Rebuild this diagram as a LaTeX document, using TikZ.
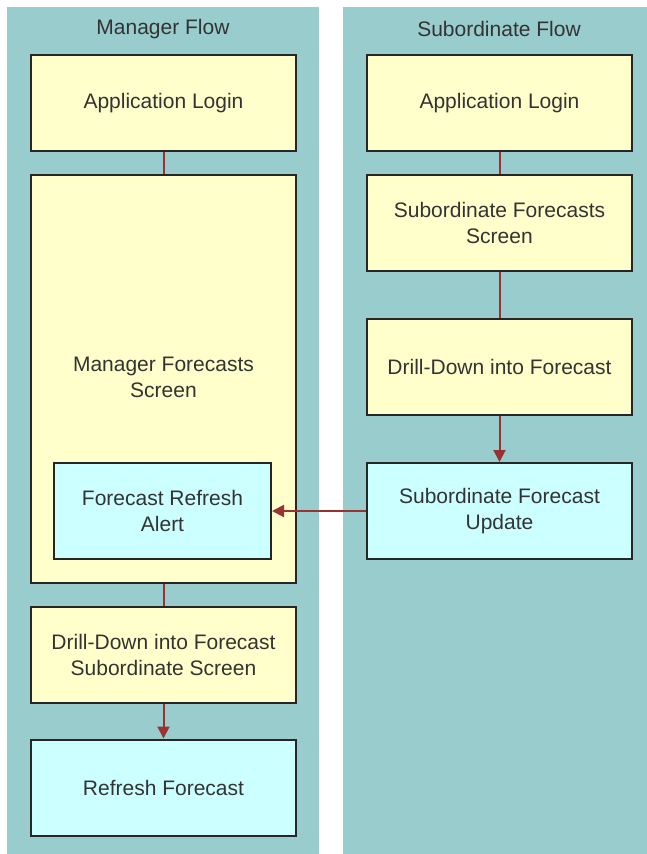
\documentclass[tikz,border=0pt]{standalone}
\usepackage{fontspec}
\setmainfont{Liberation Sans}
\usetikzlibrary{arrows.meta}
\definecolor{lanefill}{HTML}{99CCCC}
\definecolor{boxyellow}{HTML}{FFFFCC}
\definecolor{boxcyan}{HTML}{CCFFFF}
\definecolor{connred}{HTML}{993333}
\definecolor{txtgray}{HTML}{333333}
\tikzset{
  lane/.style={fill=lanefill, draw=none},
  lanetitle/.style={text=txtgray, font=\fontsize{21}{25}\selectfont, inner sep=0pt},
  box/.style={draw=black!85, line width=2pt, minimum width=265pt, minimum height=96pt,
    align=center, text=txtgray, font=\fontsize{21}{26}\selectfont, inner sep=0pt},
  ybox/.style={box, fill=boxyellow},
  cbox/.style={box, fill=boxcyan},
  conn/.style={draw=connred, line width=2pt},
  arr/.style={conn, -{Triangle[length=12pt,width=12pt]}}
}
\begin{document}
\begin{tikzpicture}[x=1pt, y=-1pt]
\useasboundingbox (0,0) rectangle (647,854);
% lanes
\fill[lane] (7,7) rectangle (319,854);
\fill[lane] (343,7) rectangle (647,854);
\node[lanetitle] (mtitle) at (163,29) {Manager Flow};
\node[lanetitle] (stitle) at (499,29) {Subordinate Flow};
% manager flow
\node[ybox] (mlogin) at (163.5,103) {Application Login};
\node[ybox, minimum height=408pt] (mfs) at (163.5,379) {};
\node[text=txtgray, font=\fontsize{21}{26}\selectfont, align=center, inner sep=0pt] (mfstext) at (163.5,377) {Manager Forecasts\\Screen};
\node[cbox, minimum width=217pt] (alert) at (162.5,511) {Forecast Refresh\\Alert};
\node[ybox] (mdrill) at (163.5,655) {Drill-Down into Forecast\\Subordinate Screen};
\node[cbox] (refresh) at (163.5,787.5) {Refresh Forecast};
% subordinate flow
\node[ybox] (slogin) at (499.5,103) {Application Login};
\node[ybox] (sfs) at (499.5,223) {Subordinate Forecasts\\Screen};
\node[ybox] (sdrill) at (499.5,367) {Drill-Down into Forecast};
\node[cbox] (supdate) at (499.5,511) {Subordinate Forecast\\Update};
% connectors
\draw[conn] (mlogin) -- (mfs);
\draw[conn] (mfs) -- (mdrill);
\draw[arr] (mdrill) -- (refresh);
\draw[conn] (slogin) -- (sfs);
\draw[conn] (sfs) -- (sdrill);
\draw[arr] (sdrill) -- (supdate);
\draw[arr] (supdate.west) -- (alert.east);
\end{tikzpicture}
\end{document}
